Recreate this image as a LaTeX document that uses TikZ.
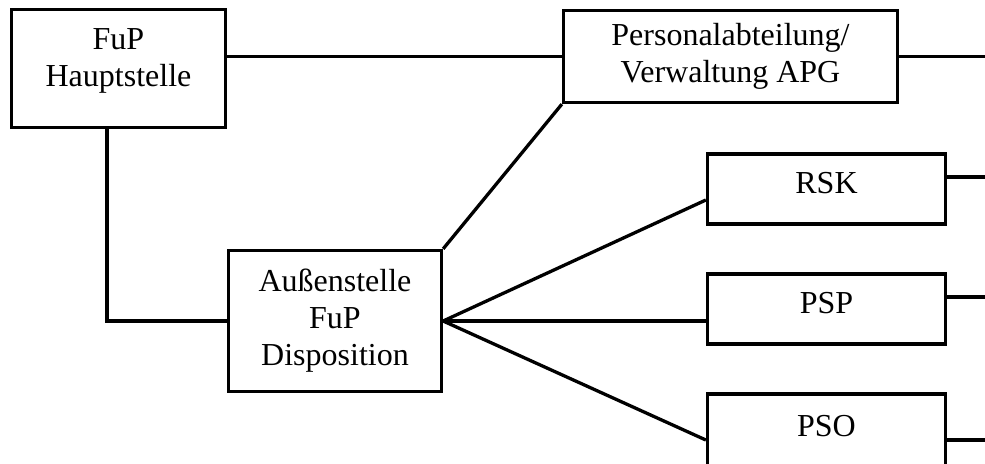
\documentclass[tikz,border=0pt]{standalone}
\usepackage{fontspec}
\setmainfont{Liberation Serif}
\usetikzlibrary{positioning}

\begin{document}
\begin{tikzpicture}[x=0.5pt,y=-0.5pt, line width=1.65pt,
  box/.style={draw, rectangle, align=center, inner sep=0pt,
    font=\fontsize{16}{18.5}\selectfont},
  smallbox/.style={box, minimum width=119pt, minimum height=35pt, text depth=6pt}]

  % Frame of the picture
  \useasboundingbox (0,0) rectangle (985,463);
  \coordinate (edge) at (985,0);

  % Upper boxes
  \node[box, minimum width=107pt, minimum height=59pt, text depth=10.5pt] (haupt) at (118.5,68.5) {FuP\\Hauptstelle};
  \node[box, minimum width=167pt, minimum height=46pt] (personal) at (730.5,56.5) {Personalabteilung/\\Verwaltung APG};

  % Branch office
  \node[box, minimum width=106.5pt, minimum height=70.5pt] (aussen) at (335,321) {Au{\ss}enstelle\\FuP\\Disposition};

  % Right boxes
  \node[smallbox] (rsk) at (826.5,189) {RSK};
  \node[smallbox] (psp) at (826.5,309) {PSP};
  \node[smallbox, minimum height=38pt] (pso) at (826.5,432) {PSO};

  % Connections
  \draw (personal.west -| haupt.east) -- (personal.west);
  \draw (personal.east) -- (personal.east -| edge);
  \draw ([xshift=-5.75pt]haupt.south) |- (aussen.west);
  \draw (aussen.north east) -- (personal.south west);

  \draw (aussen.east) -- ([yshift=-5.5pt]rsk.west);
  \draw (aussen.east) -- (aussen.east -| psp.west);
  \draw (aussen.east) -- ([yshift=-4pt]pso.west);

  % Lines leaving to the right
  \draw ([yshift=6pt]rsk.east) -- ([yshift=6pt]rsk.east -| edge);
  \draw ([yshift=6pt]psp.east) -- ([yshift=6pt]psp.east -| edge);
  \draw ([yshift=-4pt]pso.east) -- ([yshift=-4pt]pso.east -| edge);

\end{tikzpicture}
\end{document}
